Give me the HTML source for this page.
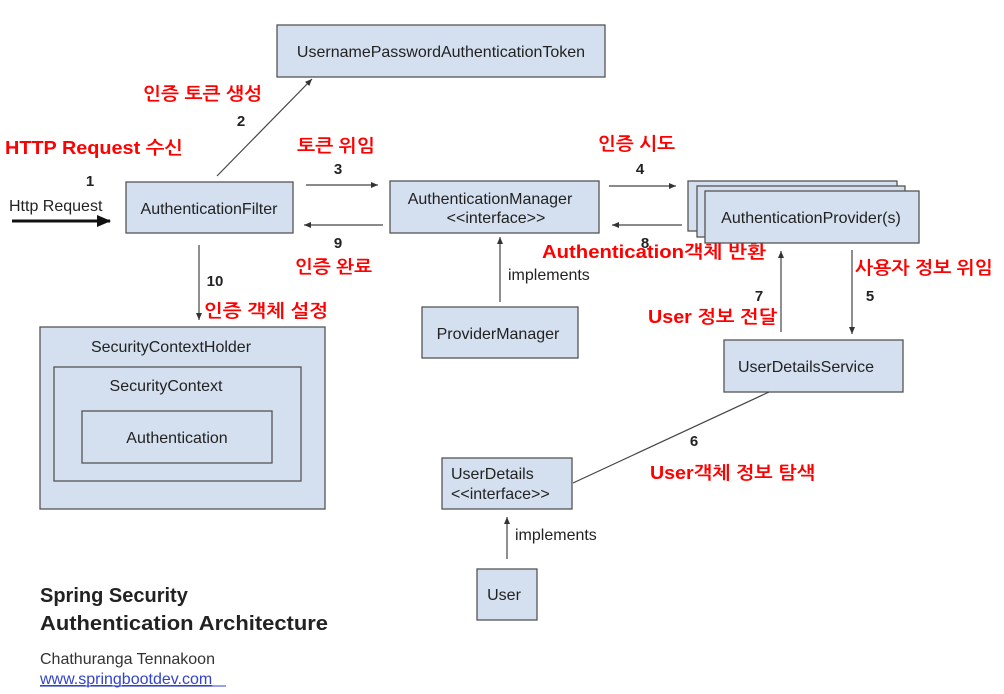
<!DOCTYPE html>
<html><head><meta charset="utf-8"><style>
html,body{margin:0;padding:0;background:#fff;}
svg{display:block;}
.b{fill:#d4e0ef;stroke:#555;stroke-width:1.3;}
.t{font-family:"Liberation Sans",Arial,sans-serif;font-size:16px;fill:#222;}
.n{font-family:"Liberation Sans",Arial,sans-serif;font-size:15px;font-weight:bold;fill:#222;}
.r{font-family:"Liberation Sans","NanumGothic","Noto Sans CJK KR",sans-serif;font-size:18px;font-weight:bold;fill:#f00;}
.l{stroke:#444;stroke-width:1.2;fill:none;}
</style></head><body>
<svg width="1004" height="694" viewBox="0 0 1004 694" xmlns="http://www.w3.org/2000/svg">
<defs>
<marker id="a" markerWidth="8" markerHeight="8" refX="7" refY="3" orient="auto" markerUnits="userSpaceOnUse"><path d="M0,0 L7,3 L0,6 z" fill="#333"/></marker>
<marker id="A" markerWidth="14" markerHeight="12" refX="13" refY="6" orient="auto" markerUnits="userSpaceOnUse"><path d="M0,0 L14,6 L0,12 z" fill="#111"/></marker>
</defs>
<!-- boxes -->
<rect class="b" x="277" y="25" width="328" height="52"/>
<text class="t" x="441" y="57" text-anchor="middle">UsernamePasswordAuthenticationToken</text>
<rect class="b" x="126" y="182" width="167" height="51"/>
<text class="t" x="209" y="214" text-anchor="middle">AuthenticationFilter</text>
<rect class="b" x="390" y="181" width="209" height="52"/>
<text class="t" x="490" y="204" text-anchor="middle">AuthenticationManager</text>
<text class="t" x="496" y="223" text-anchor="middle">&lt;&lt;interface&gt;&gt;</text>
<rect class="b" x="688" y="181" width="209" height="50"/>
<rect class="b" x="697" y="186" width="208" height="51"/>
<rect class="b" x="705" y="191" width="214" height="52"/>
<text class="t" x="811" y="223" text-anchor="middle">AuthenticationProvider(s)</text>
<rect class="b" x="422" y="307" width="156" height="51"/>
<text class="t" x="498" y="339" text-anchor="middle">ProviderManager</text>
<rect class="b" x="724" y="340" width="179" height="52"/>
<text class="t" x="806" y="372" text-anchor="middle">UserDetailsService</text>
<rect class="b" x="40" y="327" width="285" height="182"/>
<text class="t" x="171" y="352" text-anchor="middle">SecurityContextHolder</text>
<rect class="b" x="54" y="367" width="247" height="114"/>
<text class="t" x="166" y="391" text-anchor="middle">SecurityContext</text>
<rect class="b" x="82" y="411" width="190" height="52"/>
<text class="t" x="177" y="443" text-anchor="middle">Authentication</text>
<rect class="b" x="442" y="458" width="130" height="51"/>
<text class="t" x="451" y="479">UserDetails</text>
<text class="t" x="451" y="499">&lt;&lt;interface&gt;&gt;</text>
<rect class="b" x="477" y="569" width="60" height="51"/>
<text class="t" x="504" y="600" text-anchor="middle">User</text>
<!-- connectors -->
<line x1="12" y1="221" x2="110" y2="221" stroke="#111" stroke-width="3" marker-end="url(#A)"/>
<line class="l" x1="217" y1="176" x2="312" y2="79" marker-end="url(#a)"/>
<line class="l" x1="306" y1="185" x2="378" y2="185" marker-end="url(#a)"/>
<line class="l" x1="383" y1="225" x2="304" y2="225" marker-end="url(#a)"/>
<line class="l" x1="609" y1="186" x2="676" y2="186" marker-end="url(#a)"/>
<line class="l" x1="682" y1="225" x2="612" y2="225" marker-end="url(#a)"/>
<line class="l" x1="199" y1="245" x2="199" y2="320" marker-end="url(#a)"/>
<line class="l" x1="500" y1="302" x2="500" y2="237" marker-end="url(#a)"/>
<line class="l" x1="781" y1="332" x2="781" y2="251" marker-end="url(#a)"/>
<line class="l" x1="852" y1="250" x2="852" y2="334" marker-end="url(#a)"/>
<line class="l" x1="769" y1="392" x2="573" y2="483"/>
<line class="l" x1="507" y1="559" x2="507" y2="517" marker-end="url(#a)"/>
<!-- labels -->
<text class="t" x="9" y="211">Http Request</text>
<text class="n" x="90" y="186" text-anchor="middle">1</text>
<text class="n" x="241" y="126" text-anchor="middle">2</text>
<text class="n" x="338" y="174" text-anchor="middle">3</text>
<text class="n" x="640" y="174" text-anchor="middle">4</text>
<text class="n" x="870" y="301" text-anchor="middle">5</text>
<text class="n" x="694" y="446" text-anchor="middle">6</text>
<text class="n" x="759" y="301" text-anchor="middle">7</text>
<text class="n" x="645" y="248" text-anchor="middle">8</text>
<text class="n" x="338" y="248" text-anchor="middle">9</text>
<text class="n" x="215" y="286" text-anchor="middle">10</text>
<text class="t" x="508" y="280">implements</text>
<text class="t" x="515" y="540">implements</text>
<text class="r" x="5" y="154" textLength="178" lengthAdjust="spacingAndGlyphs">HTTP Request 수신</text>
<text class="r" x="143" y="100" textLength="119" lengthAdjust="spacingAndGlyphs">인증 토큰 생성</text>
<text class="r" x="297" y="152" textLength="78" lengthAdjust="spacingAndGlyphs">토큰 위임</text>
<text class="r" x="295" y="273" textLength="77" lengthAdjust="spacingAndGlyphs">인증 완료</text>
<text class="r" x="204" y="317" textLength="124" lengthAdjust="spacingAndGlyphs">인증 객체 설정</text>
<text class="r" x="598" y="150" textLength="77" lengthAdjust="spacingAndGlyphs">인증 시도</text>
<text class="r" x="542" y="258" textLength="224" lengthAdjust="spacingAndGlyphs">Authentication객체 반환</text>
<text class="r" x="855" y="274" textLength="138" lengthAdjust="spacingAndGlyphs">사용자 정보 위임</text>
<text class="r" x="648" y="323" textLength="129" lengthAdjust="spacingAndGlyphs">User 정보 전달</text>
<text class="r" x="650" y="479" textLength="165" lengthAdjust="spacingAndGlyphs">User객체 정보 탐색</text>
<!-- footer -->
<text x="40" y="602" font-family="Liberation Sans,Arial,sans-serif" font-size="20" font-weight="bold" fill="#222">Spring Security</text>
<text x="40" y="630" font-family="Liberation Sans,Arial,sans-serif" font-size="20" font-weight="bold" fill="#222" textLength="288" lengthAdjust="spacingAndGlyphs">Authentication Architecture</text>
<text x="40" y="664" font-family="Liberation Sans,Arial,sans-serif" font-size="16" fill="#333">Chathuranga Tennakoon</text>
<text x="40" y="684" font-family="Liberation Sans,Arial,sans-serif" font-size="16" fill="#3344cc" text-decoration="underline">www.springbootdev.com</text>
<line x1="40" y1="686" x2="226" y2="686" stroke="#3344cc" stroke-width="1"/>
</svg>
</body></html>
